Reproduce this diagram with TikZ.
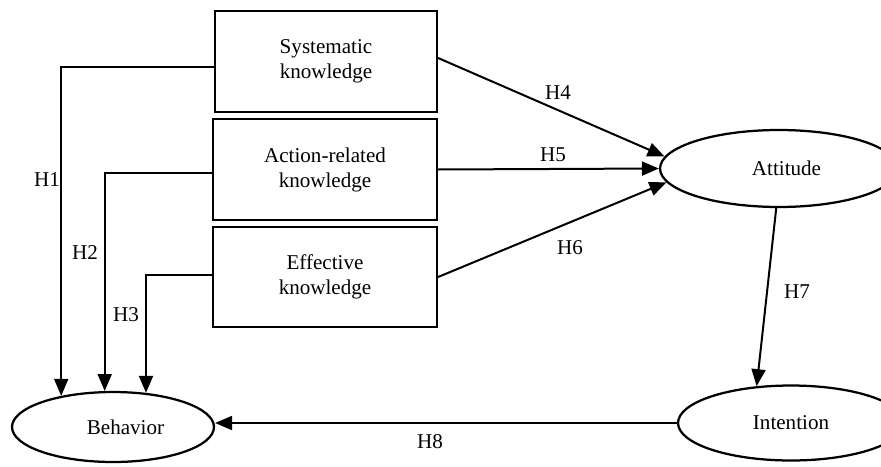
\documentclass[tikz,border=0pt]{standalone}
\usepackage{fontspec}
\setmainfont{Liberation Serif}
\usetikzlibrary{calc}
\usetikzlibrary{shapes.geometric}
\usetikzlibrary{arrows.meta}

\begin{document}
\begin{tikzpicture}[x=0.02cm,y=-0.02cm,
        kbox/.style={draw,line width=0.045cm,rectangle,align=center,inner sep=0pt,minimum height=2.02cm},
        construct/.style={draw,line width=0.045cm,ellipse,inner sep=0pt},
        hyp/.style={line width=0.04cm,-{Triangle[length=0.34cm,width=0.28cm]}},
        hlabel/.style={inner sep=1pt}]
        \useasboundingbox (0,0) rectangle (881,466);
        {\fontsize{12}{14.2}\selectfont

        % Knowledge boxes
        \node [kbox,minimum width=4.44cm] (sys) at (326,61.5) {Systematic\\knowledge};
        \node [kbox,minimum width=4.48cm] (act) at (325,169.5) {Action-related\\knowledge};
        \node [kbox,minimum width=4.48cm,minimum height=2cm] (eff) at (325,277) {Effective\\knowledge};

        % Constructs
        \node [construct,minimum width=4.76cm,minimum height=1.54cm] (att) at (779,168.5) {\hspace*{0.3cm}Attitude};
        \node [construct,minimum width=4.52cm,minimum height=1.5cm] (int) at (791,423) {Intention};
        \node [construct,minimum width=4.04cm,minimum height=1.4cm] (beh) at (113,427) {\hspace*{0.5cm}Behavior};

        % Knowledge -> behavior (H1, H2, H3)
        \draw [hyp] ([yshift=-0.11cm]sys.west) -| (beh.149);
        \draw [hyp] ([yshift=-0.07cm]act.west) -| (beh.103);
        \draw [hyp] ([yshift=0.04cm]eff.west) -| (beh.46);

        % Knowledge -> attitude (H4, H5, H6)
        \draw [hyp] ([yshift=0.07cm]sys.east) -- (att.174);
        \draw [hyp] (act.east) -- (att.west);
        \draw [hyp] (eff.east) -- (att.187);

        % Attitude -> intention -> behavior (H7, H8)
        \draw [hyp] (att.266) -- (int.133);
        \draw [hyp] (int.west) -- (int.west -| beh.east);

        % Hypothesis labels
        \node [hlabel,anchor=east] (h1) at (62,180) {H1};
        \node [hlabel] (h2) at (85,253) {H2};
        \node [hlabel] (h3) at (126,315) {H3};
        \node [hlabel] (h4) at (558,93) {H4};
        \node [hlabel] (h5) at (553,155) {H5};
        \node [hlabel] (h6) at (570,248) {H6};
        \node [hlabel] (h7) at (797,292) {H7};
        \node [hlabel] (h8) at (430,442) {H8};
        }
\end{tikzpicture}
\end{document}
